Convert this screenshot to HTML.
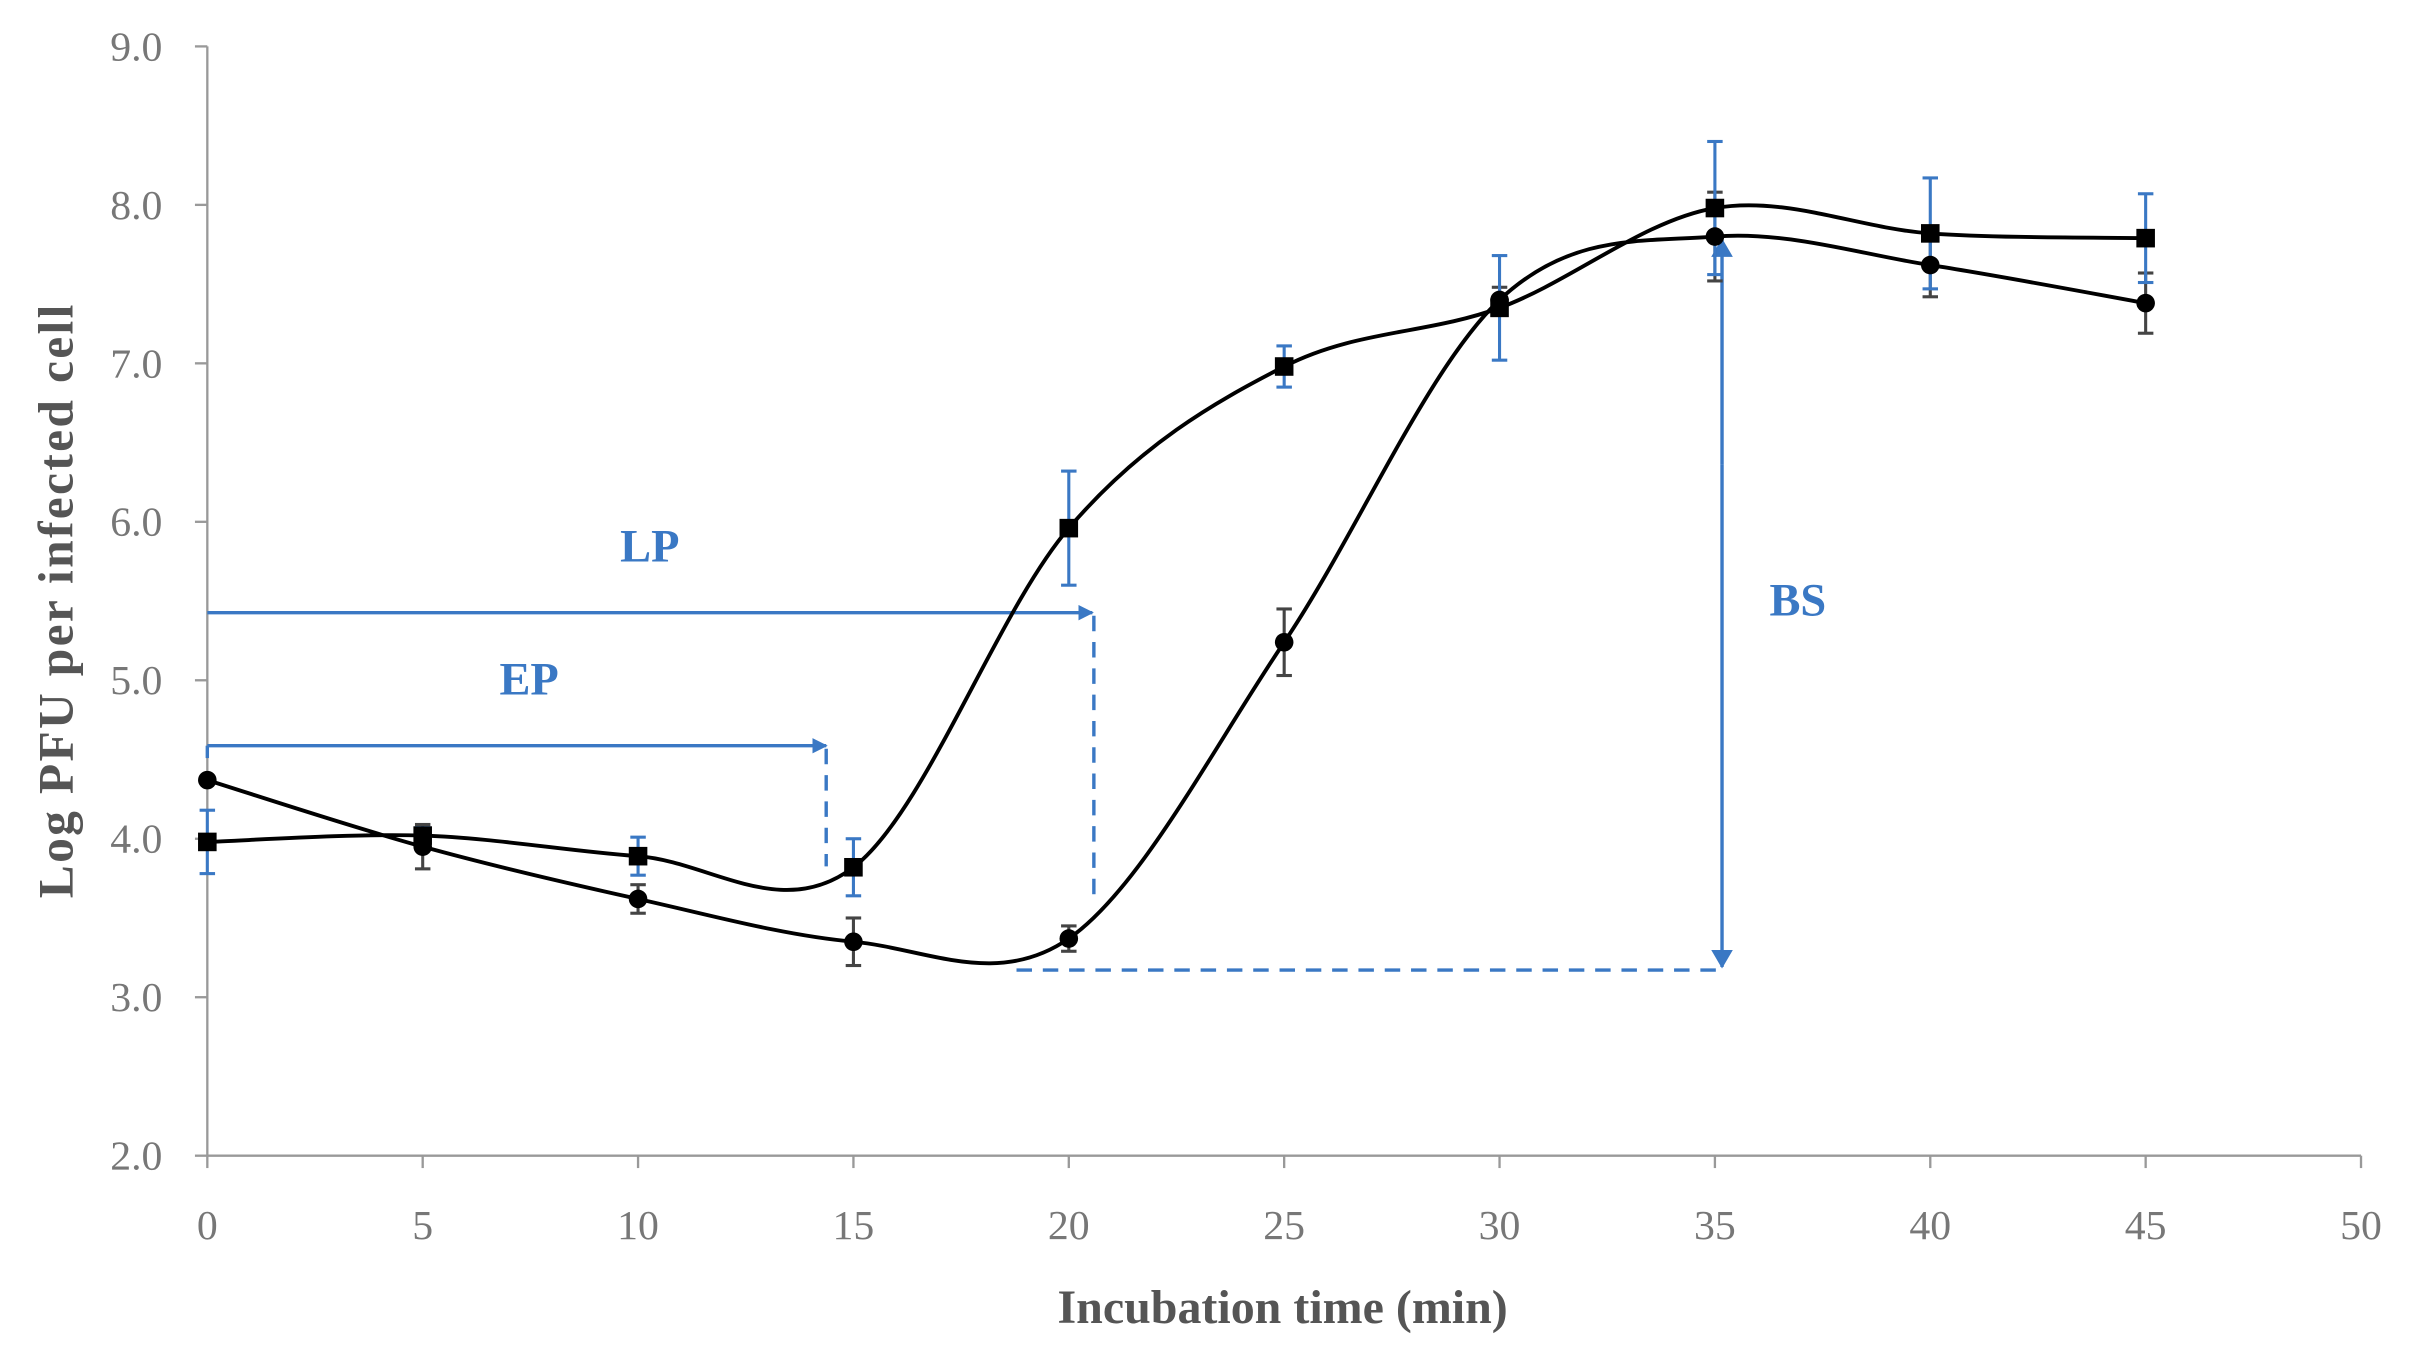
<!DOCTYPE html>
<html><head><meta charset="utf-8"><style>
html,body{margin:0;padding:0;background:#fff;}
svg{display:block;}
text{font-family:"Liberation Serif",serif;}
</style></head><body>
<svg id="s" width="2426" height="1363" viewBox="0 0 1568 881" preserveAspectRatio="none" xmlns="http://www.w3.org/2000/svg">
<defs>
<marker id="ah" markerWidth="10" markerHeight="10" refX="9" refY="5" orient="auto" markerUnits="userSpaceOnUse" viewBox="0 0 10 10"><path d="M0,0 L10,5 L0,10 z" fill="#3a78c4"/></marker>
<marker id="ah2" markerWidth="12" markerHeight="14" refX="11" refY="7" orient="auto" markerUnits="userSpaceOnUse" viewBox="0 0 12 14"><path d="M0,0 L12,7 L0,14 z" fill="#3a78c4"/></marker>
</defs>
<g id="axes" stroke="#999" stroke-width="1.5" fill="none">
<line x1="134" y1="30" x2="134" y2="747"/>
<line x1="134" y1="747" x2="1526" y2="747"/>
</g>
<g id="ticks"></g>
<g id="lab" fill="#777" font-size="27"></g>
<text x="829" y="855" text-anchor="middle" font-size="31" font-weight="bold" fill="#555">Incubation time (min)</text>
<text transform="translate(47,388) rotate(-90)" text-anchor="middle" font-size="32" font-weight="bold" fill="#555" letter-spacing="1.5">Log PFU per infected cell</text>
<g stroke="#3a78c4" stroke-width="2.2" fill="none">
<line x1="134" y1="396" x2="706" y2="396" marker-end="url(#ah)"/>
<line x1="707" y1="398" x2="707" y2="585" stroke-dasharray="10,7"/>
<line x1="134" y1="482" x2="534" y2="482" marker-end="url(#ah)"/>
<line x1="134" y1="482" x2="134" y2="490"/>
<line x1="534" y1="484" x2="534" y2="560" stroke-dasharray="10,7"/>
<line x1="657" y1="627" x2="1113" y2="627" stroke-dasharray="10,7"/>
<line x1="1113" y1="300" x2="1113" y2="155" marker-end="url(#ah2)"/>
<line x1="1113" y1="300" x2="1113" y2="625" marker-end="url(#ah2)"/>
</g>
<g fill="#3a78c4" font-size="30" font-weight="bold">
<text x="420" y="363" text-anchor="middle">LP</text>
<text x="342" y="449" text-anchor="middle">EP</text>
<text x="1162" y="398" text-anchor="middle">BS</text>
</g>
<g id="data"></g>
</svg>
<script>
var NS="http://www.w3.org/2000/svg";
function X(t){return 134+t*27.84;}
function Y(v){return 747-(v-2)*102.43;}
function el(p,tag,a,txt){var e=document.createElementNS(NS,tag);for(var k in a)e.setAttribute(k,a[k]);if(txt!=null)e.textContent=txt;p.appendChild(e);return e;}
var T=document.getElementById("ticks"),L=document.getElementById("lab"),D=document.getElementById("data");
for(var v=2;v<=9;v++){el(T,"line",{x1:126,x2:134,y1:Y(v),y2:Y(v),stroke:"#999","stroke-width":1.5});el(L,"text",{x:105,y:Y(v)+9,"text-anchor":"end"},v.toFixed(1));}
for(var t=0;t<=50;t+=5){el(T,"line",{x1:X(t),x2:X(t),y1:747,y2:755,stroke:"#999","stroke-width":1.5});el(L,"text",{x:X(t),y:801,"text-anchor":"middle"},t);}
var ts=[0,5,10,15,20,25,30,35,40,45];
var sq=[3.98,4.02,3.89,3.82,5.96,6.98,7.35,7.98,7.82,7.79];
var sqe=[0.2,0.05,0.12,0.18,0.36,0.13,0.33,0.42,0.35,0.28];
var ci=[4.37,3.95,3.62,3.35,3.37,5.24,7.40,7.80,7.62,7.38];
var cie=[0,0.14,0.09,0.15,0.08,0.21,0.08,0.28,0.2,0.19];
function path(vs){var p=ts.map(function(t,i){return [X(t),Y(vs[i])];});var d="M"+p[0][0]+","+p[0][1];
for(var i=0;i<p.length-1;i++){var p0=p[i-1]||p[i],p1=p[i],p2=p[i+1],p3=p[i+2]||p2;var k=1/6;
d+=" C"+(p1[0]+(p2[0]-p0[0])*k)+","+(p1[1]+(p2[1]-p0[1])*k)+" "+(p2[0]-(p3[0]-p1[0])*k)+","+(p2[1]-(p3[1]-p1[1])*k)+" "+p2[0]+","+p2[1];}return d;}
function eb(vs,es,col){ts.forEach(function(t,i){if(!es[i])return;var x=X(t),a=Y(vs[i]+es[i]),b=Y(vs[i]-es[i]);
el(D,"line",{x1:x,x2:x,y1:a,y2:b,stroke:col,"stroke-width":2});el(D,"line",{x1:x-5,x2:x+5,y1:a,y2:a,stroke:col,"stroke-width":2});el(D,"line",{x1:x-5,x2:x+5,y1:b,y2:b,stroke:col,"stroke-width":2});});}
eb(ci,cie,"#444");eb(sq,sqe,"#3a78c4");
el(D,"path",{d:path(ci),stroke:"#000","stroke-width":2.5,fill:"none"});
el(D,"path",{d:path(sq),stroke:"#000","stroke-width":2.5,fill:"none"});
ts.forEach(function(t,i){el(D,"rect",{x:X(t)-6,y:Y(sq[i])-6,width:12,height:12,fill:"#000"});el(D,"circle",{cx:X(t),cy:Y(ci[i]),r:6,fill:"#000"});});
</script>
</body></html>
